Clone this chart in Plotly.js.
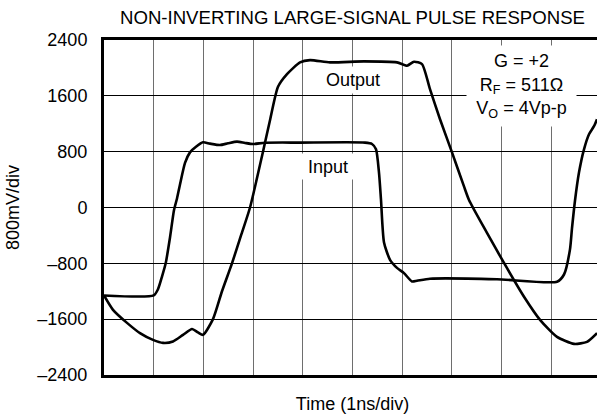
<!DOCTYPE html>
<html>
<head>
<meta charset="utf-8">
<script src="https://cdn.plot.ly/plotly-3.0.1.min.js"></script>
<style>
html, body { margin: 0; padding: 0; overflow: hidden; background: #fff; }
#chart { width: 606px; height: 416px; }
</style>
</head>
<body>
<div id="chart"></div>
<script>
// Time in divisions (1 ns/div)
const inputTime = [0, 1.0, 1.087, 1.167, 1.241, 1.328, 1.408, 1.469, 1.529, 1.630, 1.730, 1.851, 1.992, 2.133, 2.334, 2.495, 2.676, 2.837, 2.998, 3.239, 3.944, 5.252, 5.392, 5.473, 5.533, 5.573, 5.634, 5.755, 5.895, 6.036, 6.197, 6.298, 6.559, 7.907, 9.115, 9.256, 9.376, 9.416, 9.477, 9.557, 9.658, 9.759, 9.859, 9.920];
const inputMV = [-1260, -1260, -1170, -990, -800, -430, -40, 130, 330, 640, 790, 870, 934, 915, 895, 920, 944, 925, 910, 928, 930, 930, 910, 833, 500, 115, -500, -750, -865, -940, -1060, -1050, -1020, -1027, -1063, -960, -600, -300, 100, 500, 833, 1050, 1165, 1265];

const outputTime = [0, 0.181, 0.463, 0.724, 0.986, 1.187, 1.388, 1.590, 1.771, 1.891, 1.992, 2.193, 2.374, 2.575, 2.757, 2.938, 3.199, 3.340, 3.501, 3.682, 3.944, 4.145, 4.547, 5.231, 5.895, 6.097, 6.237, 6.398, 6.559, 6.761, 7.002, 7.243, 7.344, 7.706, 8.048, 8.451, 8.773, 9.115, 9.457, 9.718, 9.920];
const outputMV = [-1260, -1466, -1653, -1800, -1897, -1940, -1920, -1825, -1740, -1790, -1825, -1600, -1200, -800, -400, 0, 800, 1250, 1730, 1911, 2079, 2112, 2079, 2094, 2079, 2031, 2089, 2055, 1696, 1265, 790, 302, 108, -364, -795, -1279, -1610, -1854, -1954, -1925, -1800];

const yTickVals = [-2400, -1600, -800, 0, 800, 1600, 2400];
const yTickText = ['\u20132400', '\u20131600', '\u2013800', '0', '800', '1600', '2400'];
const xTickVals = [0, 1, 2, 3, 4, 5, 6, 7, 8, 9, 10];

const FONT = 'Liberation Sans, Arial, sans-serif';

const traces = [
  { x: inputTime, y: inputMV, mode: 'lines', line: { color: '#000', width: 2.6, shape: 'spline', smoothing: 0.6 }, hoverinfo: 'skip', name: 'Input' },
  { x: outputTime, y: outputMV, mode: 'lines', line: { color: '#000', width: 2.6, shape: 'spline', smoothing: 0.6 }, hoverinfo: 'skip', name: 'Output' }
];

const layout = {
  width: 606, height: 416,
  margin: { l: 104, r: 5, t: 40, b: 41 },
  paper_bgcolor: '#fff', plot_bgcolor: '#fff',
  showlegend: false,
  font: { family: FONT, size: 18, color: '#000' },
  title: { text: 'NON-INVERTING LARGE-SIGNAL PULSE RESPONSE', x: 0.5, xref: 'paper', y: 1 - 17.5 / 416, yref: 'container', yanchor: 'middle', font: { family: FONT, size: 18.6, color: '#000' } },
  xaxis: {
    range: [0, 10], tickvals: xTickVals, showticklabels: false, ticks: '',
    showgrid: true, gridcolor: '#6e6e6e', gridwidth: 1, zeroline: false,
    showline: true, linecolor: '#000', linewidth: 3, mirror: true,
    title: { text: 'Time (1ns/div)', standoff: 21, font: { family: FONT, size: 18, color: '#000' } }
  },
  yaxis: {
    range: [-2400, 2400], tickvals: yTickVals, ticktext: yTickText, ticks: '',
    ticklabelstandoff: 10,
    showgrid: true, gridcolor: '#000', gridwidth: 1, zeroline: false,
    showline: true, linecolor: '#000', linewidth: 3, mirror: true,
    tickfont: { family: FONT, size: 18, color: '#000' },
    title: { text: '800mV/div', standoff: 14, font: { family: FONT, size: 18, color: '#000' } }
  },
  annotations: [
    { x: 5.02, y: 1828, xref: 'x', yref: 'y', text: 'Output', showarrow: false, bgcolor: '#fff', width: 62, height: 24, font: { family: FONT, size: 18, color: '#000' } },
    { x: 4.50, y: 588, xref: 'x', yref: 'y', text: 'Input', showarrow: false, bgcolor: '#fff', width: 52, height: 23, font: { family: FONT, size: 18, color: '#000' } },
    { x: 8.40, y: 1742, xref: 'x', yref: 'y', text: 'G = +2<br>R<sub>F</sub> = 511\u03A9<br>V<sub>O</sub> = 4Vp-p', showarrow: false, bgcolor: '#fff', width: 107, height: 78, align: 'center', font: { family: FONT, size: 18, color: '#000' } }
  ]
};

Plotly.newPlot('chart', traces, layout, { displayModeBar: false, staticPlot: true });
</script>
</body>
</html>
